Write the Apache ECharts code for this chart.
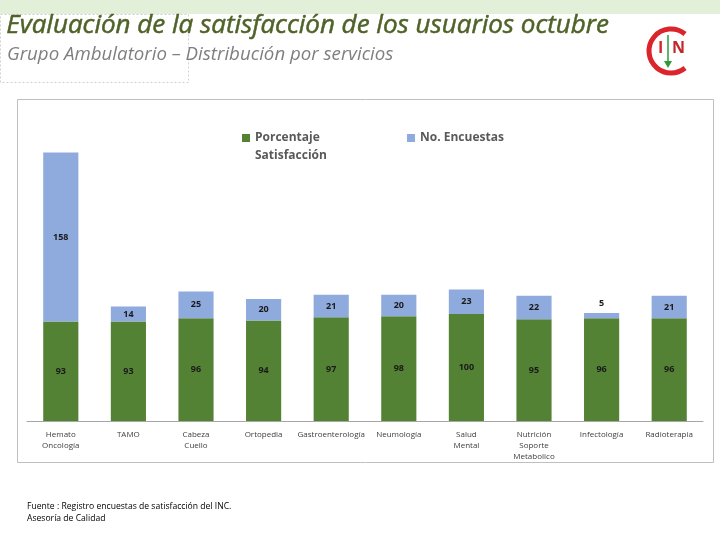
<!DOCTYPE html>
<html><head><meta charset="utf-8">
<script src="https://cdn.jsdelivr.net/npm/echarts@6/dist/echarts.min.js"></script>
<style>html,body{margin:0;padding:0;background:#fff}#c{width:720px;height:540px}</style>
</head><body><div id="c"></div>
<script>
var categories = ['Hemato\nOncología','TAMO','Cabeza\nCuello','Ortopedia','Gastroenterología','Neumología','Salud\nMental','Nutrición\nSoporte\nMetabolico','Infectología','Radioterapia'];
var satisfaccion = [93,93,96,94,97,98,100,95,96,96];
var encuestas = [158,14,25,20,21,20,23,22,5,21];
var seriesNames = ['Porcentaje\nSatisfacción','No. Encuestas'];

var chart = echarts.init(document.getElementById('c'));
var encData = encuestas.map(function(v){
  if (v < 10) return {value:v, label:{position:'top'}};
  return v;
});
chart.setOption({
  animation:false,
  grid:{left:27,right:17,top:100,bottom:119},
  legend:[
    {data:[seriesNames[0]], left:237, top:106, itemWidth:8, itemHeight:8, icon:'rect', itemGap:4,
     formatter:function(n){return '\n'+n;},
     textStyle:{color:'#595959',fontSize:12,fontWeight:'bold',fontFamily:'Open Sans',lineHeight:18}},
    {data:[seriesNames[1]], left:402, top:124, itemWidth:8, itemHeight:8, icon:'rect',
     textStyle:{color:'#595959',fontSize:12,fontWeight:'bold',fontFamily:'Open Sans',lineHeight:18}}
  ],
  xAxis:{type:'category',data:categories,
    axisLine:{lineStyle:{color:'#a6a6a6'}},axisTick:{show:false},
    axisLabel:{interval:0,color:'#404040',fontSize:8,fontFamily:'Open Sans',lineHeight:11,margin:8}},
  yAxis:{type:'value',min:0,max:300,show:false,splitLine:{show:false}},
  series:[
    {name:seriesNames[0],type:'bar',stack:'a',data:satisfaccion,barWidth:'52%',
     itemStyle:{color:'#548235'},
     label:{show:true,position:'inside',color:'#1a1a1a',fontSize:9,fontWeight:'bold',fontFamily:'Open Sans'}},
    {name:seriesNames[1],type:'bar',stack:'a',data:encData,barWidth:'52%',
     itemStyle:{color:'#8faadc'},
     label:{show:true,position:'inside',color:'#1a1a1a',fontSize:9,fontWeight:'bold',fontFamily:'Open Sans'}}
  ],
  graphic:[
    {type:'rect',shape:{x:0,y:0,width:720,height:14},style:{fill:'#e2efd9'},silent:true},
    {type:'rect',shape:{x:0.5,y:14.5,width:188,height:68},style:{fill:'none',stroke:'#d0d0d0',lineDash:[2,2],lineWidth:1},silent:true},
    {type:'text',left:6,top:12,style:{text:'Evaluación de la satisfacción de los usuarios octubre',fill:'#4f6228',stroke:'#4f6228',lineWidth:0.5,font:'italic 26px "Open Sans"'}},
    {type:'text',left:7,top:45,style:{text:'Grupo Ambulatorio – Distribución por servicios',fill:'#7f7f7f',font:'italic 18.7px "Open Sans"'}},
    {type:'rect',shape:{x:17.5,y:99.5,width:696,height:363},style:{fill:'none',stroke:'#bfbfbf',lineWidth:1},silent:true,z:-1},
    {type:'text',left:27,top:501,style:{text:'Fuente : Registro encuestas de satisfacción del INC.\nAsesoría de Calidad',fill:'#000',font:'8.6px "Open Sans"',lineHeight:12}},
    {type:'arc',shape:{cx:671,cy:51,r:22,startAngle:-Math.PI*0.28,endAngle:Math.PI*0.28,clockwise:false},style:{stroke:'#d9252b',lineWidth:5,fill:'none'},silent:true},
    {type:'text',left:658,top:40,style:{text:'I',fill:'#d9252b',font:'bold 16px "Open Sans"'}},
    {type:'line',shape:{x1:668,y1:35,x2:668,y2:66},style:{stroke:'#2e9a3a',lineWidth:1.5},silent:true},
    {type:'polygon',shape:{points:[[664,61],[672,61],[668,68]]},style:{fill:'#2e9a3a'},silent:true},
    {type:'text',left:672,top:40,style:{text:'N',fill:'#c0282d',font:'bold 16px "Open Sans"'}}
  ]
});
</script></body></html>
